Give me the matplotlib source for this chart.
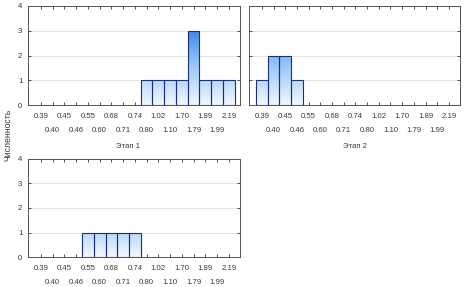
import numpy as np
import matplotlib
matplotlib.use("Agg")
import matplotlib.pyplot as plt
from matplotlib.colors import LinearSegmentedColormap

categories = ['0.39', '0.40', '0.45', '0.46', '0.55', '0.60', '0.68', '0.71', '0.74',
              '0.80', '1.02', '1.10', '1.70', '1.79', '1.89', '1.99', '2.19']
stage1 = [0, 0, 0, 0, 0, 0, 0, 0, 0, 1, 1, 1, 1, 3, 1, 1, 1]
stage2 = [1, 2, 2, 1, 0, 0, 0, 0, 0, 0, 0, 0, 0, 0, 0, 0, 0]
stage3 = [0, 0, 0, 0, 1, 1, 1, 1, 1, 0, 0, 0, 0, 0, 0, 0, 0]
titles = ['Этап 1', 'Этап 2']
ylabel = 'Численность'
yticks = [0, 1, 2, 3, 4]

plt.rcParams['font.family'] = ['Liberation Sans', 'DejaVu Sans']
W, H = 463, 287
fig = plt.figure(figsize=(W / 100, H / 100), dpi=100)
fig.patch.set_facecolor('white')

cmap = LinearSegmentedColormap.from_list('g', ['#f2f8ff', '#b9d9fa', '#7fb7f5', '#3d86ec', '#1f6ee0'])
text_col = '#3a3a3a'


def px_axes(x0, y0, x1, y1):
    return fig.add_axes([x0 / W, 1 - y1 / H, (x1 - x0) / W, (y1 - y0) / H])


def draw_panel(ax, values, ylabels=True):
    x = np.arange(len(categories))
    vals = np.array(values)
    mask = vals > 0
    ax.set_ylim(0, 4)
    ax.yaxis.grid(True, color='#dedede', lw=0.6)
    ax.set_axisbelow(True)
    bars = ax.bar(x[mask], vals[mask], width=1.0, facecolor='none',
                  edgecolor='#1d2f78', lw=0.8, zorder=3)
    grad = np.linspace(0, 1, 256).reshape(-1, 1)
    for b in bars:
        x0, w = b.get_x(), b.get_width()
        im = ax.imshow(grad, extent=(x0, x0 + w, 0, 4), origin='lower', cmap=cmap,
                       aspect='auto', zorder=2, vmin=0, vmax=1)
        im.set_clip_path(b)
    even = x[::2]
    odd = x[1::2]
    ax.set_xticks(even)
    ax.set_xticklabels([categories[i] for i in even], fontsize=5.6, color=text_col)
    ax.set_xticks(odd, minor=True)
    ax.set_xticklabels([categories[i] for i in odd], minor=True, fontsize=5.6, color=text_col)
    ax.set_yticks(yticks)
    if ylabels:
        ax.set_yticklabels([str(t) for t in yticks], fontsize=5.6, color=text_col)
    else:
        ax.set_yticklabels([])
    ax.tick_params(axis='x', which='major', direction='in', length=2, width=0.6, pad=6,
                   top=True, color='#333333')
    ax.tick_params(axis='x', which='minor', direction='in', length=2, width=0.6, pad=15.5,
                   top=True, color='#333333')
    ax.tick_params(axis='y', direction='in', length=2, width=0.6, pad=4,
                   right=True, color='#333333')
    for s in ax.spines.values():
        s.set_color('#555555')
        s.set_linewidth(0.7)
    ax.set_xlim(-1.1, 16.95)


ax1 = px_axes(28, 6, 240, 105)
draw_panel(ax1, stage1)
ax2 = px_axes(249, 6, 460, 105)
draw_panel(ax2, stage2, ylabels=False)
ax3 = px_axes(28, 159, 240, 257)
draw_panel(ax3, stage3)

fig.text(128 / W, 1 - 146 / H, titles[0], fontsize=5.6, color=text_col, ha='center', va='center')
fig.text(355 / W, 1 - 146 / H, titles[1], fontsize=5.6, color=text_col, ha='center', va='center')
fig.text(8 / W, 1 - 135 / H, ylabel, fontsize=6.2, color=text_col, rotation=90,
         ha='center', va='center')

fig.savefig('out.png', dpi=100, facecolor='white')
